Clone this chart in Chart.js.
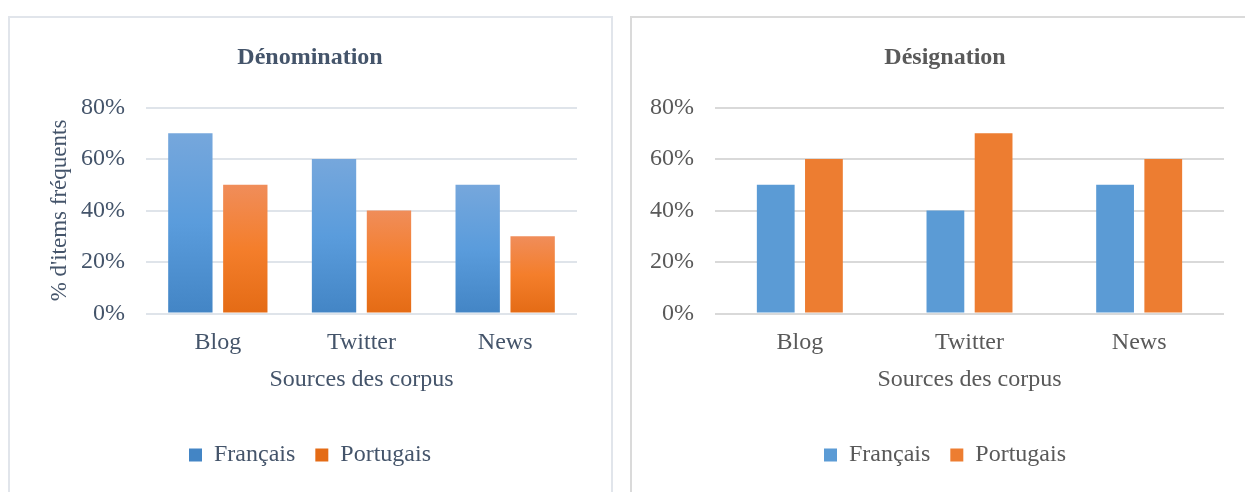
<!DOCTYPE html>
<html>
<head>
<meta charset="utf-8">
<script src="https://cdn.jsdelivr.net/npm/chart.js@4"></script>
<style>
  body { margin: 0; background: #fff; }
  .panel { position: absolute; top: 16px; height: 490px; box-sizing: border-box; background: #fff; }
  #p1 { left: 8px; width: 605px; border: 2px solid #e1e5eb; }
  #p2 { left: 630px; width: 640px; border: 2px solid #dadada; }
  .wrap { position: absolute; top: 16px; height: 476px; }
  #w1 { left: 8px; width: 604px; }
  #w2 { left: 631px; width: 628px; }
</style>
</head>
<body>
<div class="panel" id="p1"></div>
<div class="panel" id="p2"></div>
<div class="wrap" id="w1"><canvas id="chart1"></canvas></div>
<div class="wrap" id="w2"><canvas id="chart2"></canvas></div>
<script>
const categories = ['Blog', 'Twitter', 'News'];
const seriesNames = ['Français', 'Portugais'];
const denominationFr = [70, 60, 50];
const denominationPt = [50, 40, 30];
const designationFr = [50, 40, 50];
const designationPt = [60, 70, 60];
const yMax = 80;
const yStep = 20;

const serif = 'Liberation Serif';

// vertical gradient per bar (only the left chart uses it)
function barGradient(stops) {
  return function (c) {
    const chart = c.chart;
    if (!chart.chartArea || c.type !== 'data') return stops[1];
    const y = chart.scales.y;
    const top = y.getPixelForValue(c.raw);
    const base = y.getPixelForValue(0);
    const g = chart.ctx.createLinearGradient(0, top, 0, base);
    g.addColorStop(0, stops[0]);
    g.addColorStop(0.5, stops[1]);
    g.addColorStop(1, stops[2]);
    return g;
  };
}

function makeChart(id, o) {
  new Chart(document.getElementById(id), {
    type: 'bar',
    data: {
      labels: categories,
      datasets: [
        { label: seriesNames[0], data: o.fr, backgroundColor: o.frColor, borderWidth: 0,
          categoryPercentage: o.cat, barPercentage: o.bar },
        { label: seriesNames[1], data: o.pt, backgroundColor: o.ptColor, borderWidth: 0,
          categoryPercentage: o.cat, barPercentage: o.bar }
      ]
    },
    options: {
      responsive: true,
      maintainAspectRatio: false,
      animation: false,
      layout: { padding: { left: 0, right: 0, top: 0, bottom: 15 } },
      plugins: {
        title: {
          display: true,
          text: o.title,
          color: o.text,
          font: { family: serif, size: 24, weight: 'bold' },
          padding: { top: 27.6, bottom: 35.1 }
        },
        legend: {
          position: 'bottom',
          labels: {
            color: o.text,
            font: { family: serif, size: 24 },
            boxWidth: 13,
            boxHeight: 13,
            padding: 20
          }
        },
        tooltip: { enabled: false }
      },
      scales: {
        x: {
          grid: { display: false },
          border: { display: false },
          ticks: { color: o.text, font: { family: serif, size: 24 }, padding: 7 },
          title: {
            display: true,
            text: 'Sources des corpus',
            color: o.text,
            font: { family: serif, size: 24 },
            padding: { top: 0, bottom: 28.6 }
          },
          afterFit: s => { s.height = 109.5; }
        },
        y: {
          min: 0,
          max: yMax,
          grid: { color: o.grid, lineWidth: 2, drawTicks: false },
          border: { display: false },
          ticks: {
            stepSize: yStep,
            color: o.text,
            padding: 21,
            font: { family: serif, size: 24 },
            callback: v => v + '%'
          },
          title: {
            display: !!o.yTitle,
            text: o.yTitle || '',
            color: o.text,
            font: { family: serif, size: 23 },
            padding: { top: 38.2, bottom: 0 }
          },
          afterFit: s => { s.width = o.yWidth; }
        },
        // empty right-hand gutter so title and legend stay centred on the panel
        gutter: {
          type: 'linear',
          position: 'right',
          display: true,
          grid: { display: false },
          border: { display: false },
          ticks: { display: false },
          afterFit: s => { s.width = 35; }
        }
      }
    }
  });
}

makeChart('chart1', {
  title: 'Dénomination',
  yTitle: "% d'items fréquents",
  fr: denominationFr,
  pt: denominationPt,
  frColor: barGradient(['#76a7dc', '#5a9cdc', '#4385c5']),
  ptColor: barGradient(['#f08d5a', '#f47e2b', '#e46b15']),
  text: '#44546a',
  grid: '#dfe4ea',
  cat: 0.765,
  bar: 0.807,
  yWidth: 138
});

makeChart('chart2', {
  title: 'Désignation',
  fr: designationFr,
  pt: designationPt,
  frColor: '#5b9bd5',
  ptColor: '#ed7d31',
  text: '#595959',
  grid: '#d9d9d9',
  cat: 0.568,
  bar: 0.784,
  yWidth: 84
});
</script>
</body>
</html>
